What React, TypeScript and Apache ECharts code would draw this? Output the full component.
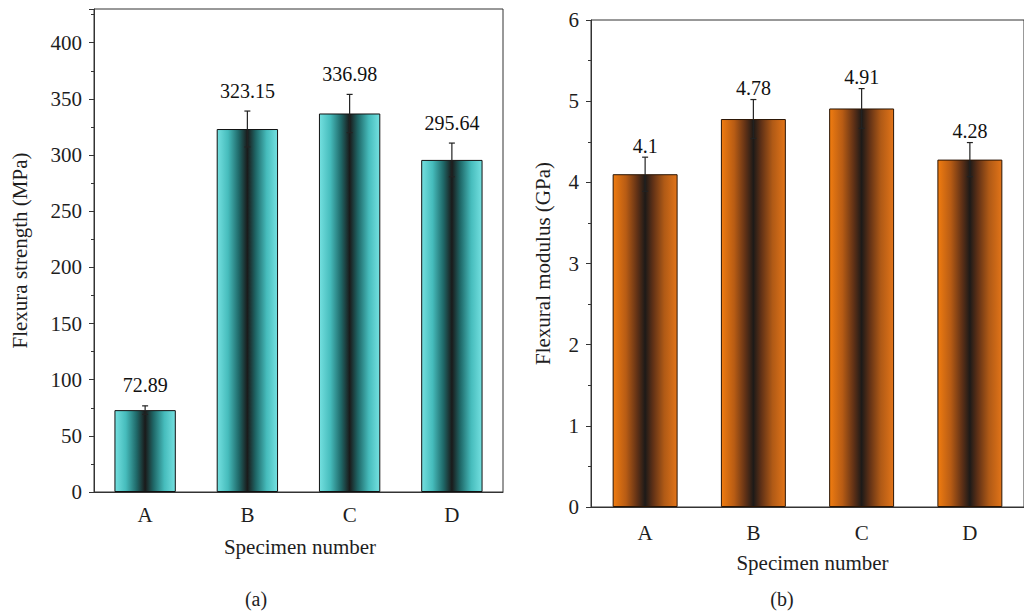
import React, { useEffect, useRef } from "react";
import * as echarts from "echarts";

const categories = ["A", "B", "C", "D"];
const strengthValues = [72.89, 323.15, 336.98, 295.64];
const strengthErrors = [3.8, 16, 17, 15];
const modulusValues = [4.1, 4.78, 4.91, 4.28];
const modulusErrors = [0.21, 0.24, 0.245, 0.21];

const FONT = "'Liberation Serif', 'Times New Roman', serif";
const TEXT = "#1e1e1e";
const AXIS = "#333";

const cyanGrad = new echarts.graphic.LinearGradient(0, 0, 1, 0, [
  { offset: 0, color: "#74e0e0" },
  { offset: 0.18, color: "#46bcbc" },
  { offset: 0.36, color: "#1f6868" },
  { offset: 0.5, color: "#1a1a1a" },
  { offset: 0.64, color: "#1f6868" },
  { offset: 0.82, color: "#46bcbc" },
  { offset: 1, color: "#74e0e0" },
]);
const orangeGrad = new echarts.graphic.LinearGradient(0, 0, 1, 0, [
  { offset: 0, color: "#f07c10" },
  { offset: 0.2, color: "#b85c14" },
  { offset: 0.38, color: "#5e3016" },
  { offset: 0.5, color: "#1d1a18" },
  { offset: 0.62, color: "#5e3016" },
  { offset: 0.8, color: "#b05a16" },
  { offset: 1, color: "#e27418" },
]);

function errorSeries(values: number[], errs: number[], xi: number, yi: number) {
  return {
    type: "custom",
    xAxisIndex: xi,
    yAxisIndex: yi,
    z: 5,
    data: values.map((v, i) => [i, v - errs[i], v + errs[i]]),
    encode: { x: 0, y: [1, 2] },
    renderItem: (params: any, api: any) => {
      const x = api.value(0);
      const lo = api.coord([x, api.value(1)]);
      const hi = api.coord([x, api.value(2)]);
      const w = 3;
      const st = { stroke: "#222", lineWidth: 1.2 };
      return {
        type: "group",
        children: [
          { type: "line", shape: { x1: lo[0], y1: lo[1], x2: hi[0], y2: hi[1] }, style: st },
          { type: "line", shape: { x1: hi[0] - w, y1: hi[1], x2: hi[0] + w, y2: hi[1] }, style: st },
          { type: "line", shape: { x1: lo[0] - w, y1: lo[1], x2: lo[0] + w, y2: lo[1] }, style: st },
        ],
      };
    },
  };
}

function labelSeries(values: number[], errs: number[], xi: number, yi: number, dist: number) {
  return {
    type: "scatter",
    xAxisIndex: xi,
    yAxisIndex: yi,
    symbolSize: 1,
    itemStyle: { color: "rgba(0,0,0,0)" },
    z: 6,
    data: values.map((v, i) => [i, v + errs[i], v]),
    label: {
      show: true,
      position: "top",
      distance: dist,
      formatter: (p: any) => String(p.data[2]),
      fontFamily: FONT,
      fontSize: 20,
      color: "#111",
      opacity: 1,
    },
  };
}

function xAxes(gridIndex: number, margin: number, gap: number, shift: number) {
  return [
    {
      type: "category",
      gridIndex,
      data: categories,
      axisLine: { lineStyle: { color: AXIS, width: 1 } },
      axisTick: { length: 5, lineStyle: { color: AXIS } },
      axisLabel: { color: TEXT, fontSize: 21, fontFamily: FONT, margin },
      name: "Specimen number",
      nameLocation: "middle",
      nameGap: gap,
      nameTextStyle: { color: TEXT, fontSize: 21, fontFamily: FONT, padding: [0, 0, 0, shift] },
    },
    {
      type: "category",
      gridIndex,
      data: categories,
      position: "bottom",
      axisLine: { show: false },
      axisTick: { alignWithLabel: true, length: 5, lineStyle: { color: AXIS } },
      axisLabel: { show: false },
    },
  ];
}

function yAxis(gridIndex: number, max: number, interval: number, name: string, gap: number) {
  return {
    type: "value",
    gridIndex,
    min: 0,
    max,
    interval,
    axisLine: { show: true, lineStyle: { color: AXIS, width: 1 } },
    axisTick: { show: true, length: 5, lineStyle: { color: AXIS } },
    minorTick: { show: true, splitNumber: 2, length: 3, lineStyle: { color: AXIS } },
    splitLine: { show: false },
    axisLabel: {
      color: TEXT,
      fontSize: 21,
      fontFamily: FONT,
      margin: 12,
      formatter: (v: number) => (Math.abs(v / interval - Math.round(v / interval)) < 1e-6 ? String(v) : ""),
    },
    name,
    nameLocation: "middle",
    nameRotate: 90,
    nameGap: gap,
    nameTextStyle: { color: TEXT, fontSize: 21, fontFamily: FONT },
  };
}

export default function App() {
  const ref = useRef<HTMLDivElement>(null);
  useEffect(() => {
    const chart = echarts.init(ref.current!, undefined, { renderer: "svg" });
    chart.setOption({
      animation: false,
      textStyle: { fontFamily: FONT },
      title: [
        { text: "(a)", left: 256, top: 589, padding: 0, textAlign: "center", textStyle: { fontFamily: FONT, fontSize: 20, fontWeight: "normal", color: TEXT } },
        { text: "(b)", left: 782, top: 589, padding: 0, textAlign: "center", textStyle: { fontFamily: FONT, fontSize: 20, fontWeight: "normal", color: TEXT } },
      ],
      grid: [
        { left: 94, top: 9, width: 409, height: 483, show: true, borderColor: AXIS, borderWidth: 1, backgroundColor: "transparent" },
        { left: 591, top: 20, width: 442, height: 487, show: true, borderColor: AXIS, borderWidth: 1, backgroundColor: "transparent" },
      ],
      xAxis: [...xAxes(0, 12, 44, 3), ...xAxes(1, 15, 45, 10)],
      yAxis: [
        yAxis(0, 430, 50, "Flexura strength (MPa)", 64),
        yAxis(1, 6, 1, "Flexural modulus (GPa)", 38),
      ],
      series: [
        {
          type: "bar",
          xAxisIndex: 0,
          yAxisIndex: 0,
          data: strengthValues,
          barWidth: "60%",
          itemStyle: { color: cyanGrad, borderColor: "#111", borderWidth: 1 },
        },
        errorSeries(strengthValues, strengthErrors, 0, 0),
        labelSeries(strengthValues, strengthErrors, 0, 0, 10),
        {
          type: "bar",
          xAxisIndex: 2,
          yAxisIndex: 1,
          data: modulusValues,
          barWidth: "60%",
          itemStyle: { color: orangeGrad, borderColor: "#2a1505", borderWidth: 1 },
        },
        errorSeries(modulusValues, modulusErrors, 2, 1),
        labelSeries(modulusValues, modulusErrors, 2, 1, 1),
      ],
    });
    return () => chart.dispose();
  }, []);
  return <div ref={ref} style={{ position: "absolute", left: 0, top: 0, width: 1024, height: 614 }} />;
}
